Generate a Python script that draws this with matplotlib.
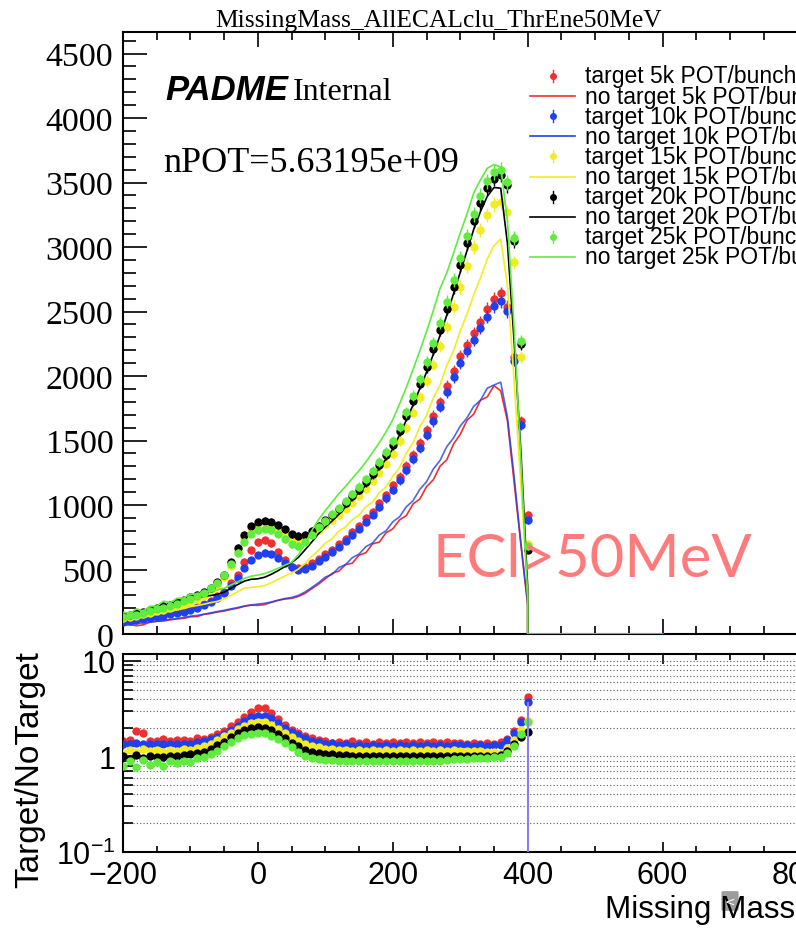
import numpy as np
import matplotlib

matplotlib.use("Agg")
import matplotlib.pyplot as plt
from matplotlib.lines import Line2D
from matplotlib.patches import FancyBboxPatch
from matplotlib.ticker import MultipleLocator, LogLocator, NullFormatter

plt.rcParams["mathtext.fontset"] = "custom"
plt.rcParams["mathtext.rm"] = "Liberation Sans"
plt.rcParams["mathtext.it"] = "Liberation Sans:italic"

# bin centres (MeV) and histogram upper edge
mass = np.arange(-200, 401, 10)
hist_end = 600

# target runs (markers)
tgt_5k = [100, 106, 117, 124, 135, 141, 153, 160, 172, 180,
          196, 209, 232, 254, 292, 329, 392, 458, 562, 648,
          712, 728, 702, 638, 572, 523, 512, 518, 547, 578,
          622, 653, 697, 738, 792, 838, 897, 948, 1012, 1078,
          1152, 1218, 1302, 1388, 1482, 1578, 1692, 1798, 1922, 2038,
          2152, 2238, 2332, 2418, 2522, 2598, 2642, 2538, 2150, 1650,
          920]
tgt_10k = [95, 103, 109, 118, 124, 135, 142, 153, 161, 174,
           185, 203, 221, 247, 277, 317, 369, 431, 509, 576,
           614, 631, 619, 591, 549, 516, 499, 506, 529, 566,
           599, 636, 674, 721, 764, 816, 869, 926, 984, 1051,
           1119, 1191, 1269, 1356, 1444, 1546, 1649, 1761, 1874, 1991,
           2099, 2191, 2279, 2371, 2459, 2541, 2579, 2501, 2120, 1620,
           880]
tgt_15k = [125, 134, 141, 153, 162, 176, 187, 202, 215, 233,
           249, 271, 295, 331, 374, 441, 529, 641, 744, 816,
           849, 866, 854, 826, 784, 746, 729, 741, 769, 806,
           844, 886, 924, 971, 1019, 1071, 1124, 1186, 1249, 1321,
           1394, 1496, 1599, 1716, 1834, 1961, 2089, 2231, 2379, 2536,
           2689, 2851, 2999, 3131, 3249, 3331, 3349, 3271, 2880, 2150,
           700]
tgt_20k = [142, 150, 161, 171, 186, 199, 214, 227, 245, 261,
           283, 302, 329, 357, 401, 459, 561, 669, 771, 834,
           866, 879, 871, 844, 811, 774, 761, 769, 801, 839,
           881, 919, 966, 1014, 1066, 1119, 1176, 1239, 1311, 1384,
           1466, 1574, 1691, 1809, 1941, 2069, 2211, 2359, 2521, 2689,
           2861, 3029, 3201, 3339, 3461, 3529, 3561, 3479, 3050, 2250,
           650]
tgt_25k = [135, 144, 151, 164, 175, 191, 203, 220, 234, 253,
           271, 295, 319, 353, 394, 456, 539, 631, 714, 776,
           804, 816, 804, 776, 734, 696, 684, 716, 769, 826,
           879, 931, 979, 1031, 1084, 1141, 1199, 1266, 1334, 1411,
           1494, 1606, 1719, 1846, 1974, 2111, 2254, 2411, 2574, 2746,
           2914, 3086, 3254, 3396, 3509, 3581, 3599, 3501, 3070, 2270,
           680]

# no-target runs (lines)
ntg_5k = [69, 72, 64, 71, 92, 98, 101, 110, 117, 121,
          134, 135, 153, 159, 171, 178, 190, 200, 215, 224,
          222, 228, 246, 261, 271, 276, 291, 315, 352, 387,
          428, 470, 488, 538, 549, 611, 630, 699, 712, 785,
          815, 884, 918, 1008, 1046, 1142, 1195, 1301, 1350, 1472,
          1548, 1656, 1705, 1812, 1838, 1925, 1885, 1650, 1170, 690,
          220]
ntg_10k = [70, 76, 79, 87, 93, 99, 106, 113, 120, 128,
           138, 144, 153, 164, 174, 184, 195, 205, 217, 225,
           232, 238, 248, 262, 275, 283, 299, 326, 361, 398,
           441, 462, 515, 538, 592, 620, 677, 705, 767, 800,
           870, 908, 986, 1033, 1121, 1180, 1278, 1345, 1452, 1520,
           1612, 1676, 1765, 1812, 1905, 1930, 1952, 1680, 1215, 700,
           238]
ntg_15k = [114, 116, 127, 127, 142, 152, 168, 175, 188, 197,
           212, 221, 231, 243, 253, 272, 298, 328, 355, 362,
           366, 376, 398, 423, 449, 472, 503, 548, 602, 649,
           705, 738, 798, 830, 886, 922, 986, 1022, 1095, 1140,
           1222, 1290, 1400, 1482, 1605, 1695, 1828, 1930, 2082, 2195,
           2350, 2480, 2630, 2760, 2905, 3010, 3060, 2700, 1950, 1150,
           300]
ntg_20k = [142, 158, 157, 177, 185, 200, 217, 224, 244, 254,
           269, 281, 293, 298, 308, 324, 354, 383, 410, 424,
           428, 440, 463, 491, 523, 554, 594, 653, 714, 778,
           830, 876, 928, 985, 1044, 1098, 1152, 1216, 1284, 1358,
           1436, 1544, 1657, 1775, 1902, 2029, 2167, 2314, 2471, 2637,
           2804, 2971, 3137, 3275, 3392, 3461, 3456, 3026, 2259, 1406,
           361]
ntg_25k = [169, 159, 195, 177, 215, 216, 255, 243, 276, 280,
           309, 309, 327, 335, 343, 355, 380, 404, 431, 448,
           457, 468, 488, 510, 533, 556, 612, 701, 802, 887,
           957, 1022, 1089, 1144, 1206, 1267, 1333, 1406, 1483, 1567,
           1661, 1783, 1911, 2050, 2194, 2344, 2506, 2678, 2799, 2952,
           3110, 3255, 3420, 3520, 3610, 3640, 3620, 3200, 2362, 1335,
           296]

intensities = ["5k", "10k", "15k", "20k", "25k"]
colors = ["#f03030", "#2040f0", "#f2ec22", "#000000", "#5fec3c"]
targets = [tgt_5k, tgt_10k, tgt_15k, tgt_20k, tgt_25k]
no_targets = [ntg_5k, ntg_10k, ntg_15k, ntg_20k, ntg_25k]

W, H = 796, 929


def fx(px):
    return px / W


def fy(py):
    return 1 - py / H


fig = plt.figure(figsize=(W / 100, H / 100), dpi=100)
x_scale = 0.6745  # px per MeV
ax = fig.add_axes([fx(123), fy(635), 1200 * x_scale / W, (635 - 32.7) / H])
axr = fig.add_axes([fx(123), fy(853), 1200 * x_scale / W, (853 - 655) / H])

# ---- top panel
line_x = np.r_[mass, mass[-1], hist_end]
for i, (c, t, n) in enumerate(zip(colors, targets, no_targets)):
    t = np.asarray(t, float)
    n = np.asarray(n, float)
    ax.errorbar(mass, t, yerr=np.sqrt(t), fmt="o", ms=6, color=c, ecolor=c,
                elinewidth=1, capsize=0, mec="none", zorder=2 + 2 * i)
    ax.plot(line_x, np.r_[n, 0, 0], color=c, lw=1.2,
            alpha=0.8 if i == 1 else 1.0, zorder=3 + 2 * i)

ax.set_xlim(-200, 1000)
ax.set_ylim(0, 4669)
ax.set_xticks(range(-200, 1001, 200))
ax.xaxis.set_minor_locator(MultipleLocator(50))
ax.set_yticks(range(0, 4501, 500), labels=[str(v) for v in range(0, 4501, 500)],
              fontsize=24.5, fontfamily="Liberation Serif")
ax.yaxis.set_minor_locator(MultipleLocator(100))
ax.tick_params(axis="x", labelbottom=False)
ax.tick_params(which="both", direction="in", top=True, right=True, width=1.2)
ax.tick_params(axis="y", which="major", length=17, pad=7)
ax.tick_params(axis="y", which="minor", length=9)
ax.tick_params(axis="x", which="major", length=11)
ax.tick_params(axis="x", which="minor", length=6)
for s in ax.spines.values():
    s.set_linewidth(1.5)

# ---- ratio panel
for i, (c, t, n) in enumerate(zip(colors, targets, no_targets)):
    r = np.asarray(t, float) / np.asarray(n, float)
    axr.plot(mass, r, "o", ms=6, color=c, mec="none", zorder=2 + i)
    if i == 1:
        axr.vlines(mass[-1], 0.1, r[-1], color="#8a7cf0", lw=1.5, zorder=8)

axr.set_yscale("log")
axr.set_xlim(-200, 1000)
axr.set_ylim(0.1, 11.8)
axr.set_yticks([0.1, 1, 10], labels=[r"$10^{-1}$", "1", "10"], fontsize=22,
               fontfamily="Liberation Sans")
axr.yaxis.set_minor_locator(LogLocator(base=10, subs=range(2, 10)))
axr.yaxis.set_minor_formatter(NullFormatter())
xt = list(range(-200, 1001, 200))
axr.set_xticks(xt, labels=[str(v).replace("-", "\u2212") for v in xt], fontsize=22,
               fontfamily="Liberation Sans")
axr.xaxis.set_minor_locator(MultipleLocator(50))
axr.tick_params(which="both", direction="in", top=True, right=True, width=1.2)
axr.tick_params(axis="y", which="major", length=13, pad=5)
axr.tick_params(axis="y", which="minor", length=7)
axr.tick_params(axis="x", which="major", length=7, pad=6)
axr.tick_params(axis="x", which="minor", length=4)
axr.yaxis.grid(True, which="both", linestyle=(0, (1, 2)), color="0.35", lw=0.8)
for s in axr.spines.values():
    s.set_linewidth(1.5)

# ---- texts
fig.text(fx(439), fy(27), "MissingMass_AllECALclu_ThrEne50MeV", ha="center",
         va="baseline", fontsize=18.4, fontfamily="Liberation Serif")
fig.text(fx(165), fy(100), "PADME", ha="left", va="baseline", fontsize=25,
         fontfamily="Liberation Sans", fontweight="bold", fontstyle="italic")
fig.text(fx(293), fy(100), "Internal", ha="left", va="baseline", fontsize=23,
         fontfamily="Liberation Serif")
fig.text(fx(163), fy(172), "nPOT=5.63195e+09", ha="left", va="baseline",
         fontsize=26, fontfamily="Liberation Serif")
fig.text(fx(432), fy(577), "ECl>50MeV", ha="left", va="baseline", fontsize=43,
         fontfamily="Lato", color="#ff7b7b")
fig.text(fx(30), fy(770), "Target/NoTarget", rotation=90, ha="center", va="center",
         fontsize=24, fontfamily="Liberation Sans")
fig.text(fx(605), fy(918), "Missing Mass (MeV)", ha="left", va="baseline",
         fontsize=22.6, fontfamily="Liberation Sans")

# legend
for i, (lab, c) in enumerate(zip(intensities, colors)):
    for j, kind in enumerate(["target", "no target"]):
        row = 2 * i + j
        y = 77 + 20.1 * row
        if kind == "target":
            fig.add_artist(Line2D([fx(553)] * 2, [fy(y - 6), fy(y + 6)], color=c, lw=1))
            fig.add_artist(Line2D([fx(553)], [fy(y)], marker="o", ms=5, color=c,
                                  mec="none"))
        else:
            fig.add_artist(Line2D([fx(530), fx(575)], [fy(y)] * 2, color=c, lw=1.2))
        fig.text(fx(585), fy(y), f"{kind} {lab} POT/bunch", ha="left", va="center",
                 fontsize=16.5, fontfamily="Liberation Sans")

# screenshot toolbar knob
fig.add_artist(FancyBboxPatch((fx(723), fy(910)), 14 / W, 16 / H,
                              boxstyle="round,pad=0.002", fc="#9c9c9c", ec="none",
                              transform=fig.transFigure))
fig.text(fx(730), fy(902), "<", ha="center", va="center", fontsize=9, color="white",
         fontfamily="DejaVu Sans")

fig.savefig("out.png", dpi=100)
